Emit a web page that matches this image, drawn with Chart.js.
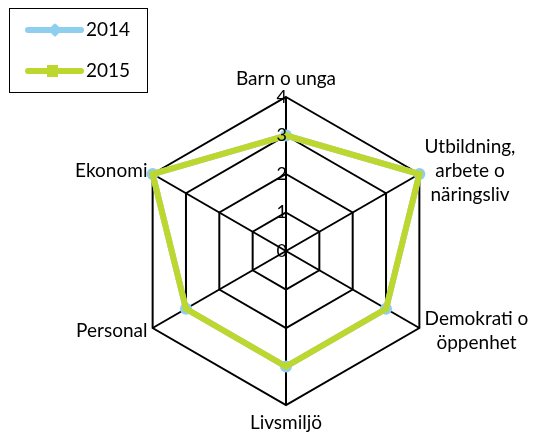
<!DOCTYPE html>
<html>
<head>
<meta charset="utf-8">
<script src="https://cdn.jsdelivr.net/npm/chart.js@4"></script>
<style>
html,body{margin:0;padding:0;background:#fff;}
#wrap{position:relative;width:538px;height:436px;font-family:Lato,sans-serif;}
#c{position:absolute;left:0;top:0;}
#legend{position:absolute;left:9px;top:8px;width:139px;height:85px;border:1px solid #000;box-sizing:border-box;}
.lt{position:absolute;left:86px;font-size:19px;line-height:20px;color:#000;}
#lg{position:absolute;left:0;top:0;}
</style>
</head>
<body>
<div id="wrap">
<canvas id="c" width="538" height="436"></canvas>
<div id="legend"></div>
<svg id="lg" width="160" height="100"></svg>
<span class="lt" id="t0" style="top:19px"></span>
<span class="lt" id="t1" style="top:60px"></span>
</div>
<script>
const categories = ['Barn o unga', ['Utbildning,', 'arbete o', 'näringsliv'], ['Demokrati o', 'öppenhet'], 'Livsmiljö', 'Personal', 'Ekonomi'];
const seriesNames = ['2014', '2015'];
const values2014 = [3, 4, 3, 3, 3, 4];
const values2015 = [3, 4, 3, 3, 3, 4];
const tickLabels = ['0', '1', '2', '3', '4'];
const colors = ['#8ecff0', '#bed72f'];

// legend
document.getElementById('t0').textContent = seriesNames[0];
document.getElementById('t1').textContent = seriesNames[1];
const svg = document.getElementById('lg');
svg.innerHTML =
  '<line x1="28" y1="30" x2="81" y2="30" stroke="' + colors[0] + '" stroke-width="6" stroke-linecap="round"/>' +
  '<rect x="50" y="25" width="10" height="10" rx="1.5" fill="' + colors[0] + '" transform="rotate(45 55 30)"/>' +
  '<line x1="28" y1="71" x2="81" y2="71" stroke="' + colors[1] + '" stroke-width="6" stroke-linecap="round"/>' +
  '<rect x="47" y="65" width="11" height="12" fill="' + colors[1] + '"/>';

const labelPlugin = {
  id: 'customLabels',
  afterDatasetsDraw(chart) {
    const s = chart.scales.r;
    const ctx = chart.ctx;
    ctx.save();
    ctx.fillStyle = '#000';
    ctx.font = '18px Lato';
    ctx.textAlign = 'right';
    ctx.textBaseline = 'middle';
    s.ticks.forEach((t, i) => {
      const d = s.getDistanceFromCenterForValue(t.value);
      ctx.fillText(tickLabels[i], s.xCenter + 1, s.yCenter - d);
    });
    ctx.font = '19px Lato';
    const LH = 24;
    categories.forEach((lab, i) => {
      const lines = Array.isArray(lab) ? lab : [lab];
      const p = s.getPointPosition(i, s.drawingArea + 6);
      const w = Math.max(...lines.map(l => ctx.measureText(l).width));
      const h = lines.length * LH;
      const dx = p.x - s.xCenter, dy = p.y - s.yCenter;
      let left, top;
      if (Math.abs(dx) < 1) { left = p.x - w / 2; top = dy < 0 ? p.y - h : p.y; }
      else { left = dx > 0 ? p.x : p.x - w; top = p.y - h / 2; }
      ctx.textAlign = 'center';
      lines.forEach((l, k) => ctx.fillText(l, left + w / 2, top + LH * k + LH / 2));
    });
    ctx.restore();
  }
};

new Chart(document.getElementById('c'), {
  type: 'radar',
  data: {
    labels: categories,
    datasets: [
      { label: seriesNames[0], data: values2014, borderColor: colors[0], backgroundColor: colors[0],
        borderWidth: 6, pointStyle: 'circle', pointRadius: 6, pointBorderWidth: 0,
        pointBackgroundColor: colors[0], fill: false, order: 1 },
      { label: seriesNames[1], data: values2015, borderColor: colors[1], backgroundColor: colors[1],
        borderWidth: 6, pointStyle: 'rect', pointRadius: 4, pointBorderWidth: 0,
        pointBackgroundColor: colors[1], fill: false, order: 0 }
    ]
  },
  options: {
    responsive: false,
    animation: false,
    layout: { padding: { left: 116, right: 82, top: 97, bottom: 31 } },
    plugins: { legend: { display: false }, tooltip: { enabled: false } },
    elements: { line: { tension: 0 } },
    scales: {
      r: {
        min: 0, max: 4,
        ticks: { display: false, stepSize: 1 },
        grid: { color: '#000', lineWidth: 2 },
        angleLines: { color: '#000', lineWidth: 2 },
        pointLabels: { display: false }
      }
    }
  },
  plugins: [labelPlugin]
});
</script>
</body>
</html>
